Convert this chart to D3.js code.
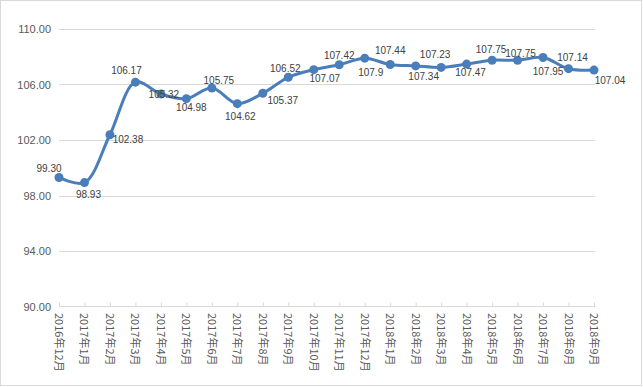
<!DOCTYPE html>
<html><head><meta charset="utf-8">
<script src="https://cdn.jsdelivr.net/npm/d3@7"></script>
<style>body{margin:0;background:#fff}svg{display:block}</style>
</head><body><svg id="c" width="643" height="387"></svg>
<script>
const categories = ["2016年12月","2017年1月","2017年2月","2017年3月","2017年4月","2017年5月","2017年6月","2017年7月","2017年8月","2017年9月","2017年10月","2017年11月","2017年12月","2018年1月","2018年2月","2018年3月","2018年4月","2018年5月","2018年6月","2018年7月","2018年8月","2018年9月"];
const values = [99.30,98.93,102.38,106.17,105.32,104.98,105.75,104.62,105.37,106.52,107.07,107.42,107.9,107.44,107.34,107.23,107.47,107.75,107.75,107.95,107.14,107.04];
const valueLabels = ["99.30","98.93","102.38","106.17","105.32","104.98","105.75","104.62","105.37","106.52","107.07","107.42","107.9","107.44","107.34","107.23","107.47","107.75","107.75","107.95","107.14","107.04"];
const yTicks = [90,94,98,102,106,110];
// label placement offsets (dx to text centre, dy to baseline) relative to each point
const labelOffsets = [[-10,-5],[4,15],[18,8],[-9,-8],[3,4],[5,12],[7,-4],[3,16],[20,11],[-3,-5],[11,12],[0,-6],[6,18],[0,-11],[8,14],[-6,-9],[4,12],[-1,-7],[3,-3.5],[5,18],[4,-8],[16,14]];

const svg = d3.select("#c");
svg.append("rect").attr("x",0.5).attr("y",0.5).attr("width",641).attr("height",385)
  .attr("fill","#fff").attr("stroke","#d9d9d9");

const x = d3.scalePoint().domain(categories).range([59,594]);
const y = d3.scaleLinear().domain([90,110]).range([306.5,29]);

// gridlines
svg.append("g").selectAll("line").data(yTicks.filter(d=>d>90)).join("line")
  .attr("x1",59).attr("x2",595).attr("y1",d=>Math.round(y(d))+0.5).attr("y2",d=>Math.round(y(d))+0.5)
  .attr("stroke","#d9d9d9").attr("stroke-width",1);

// y axis labels
svg.append("g").selectAll("text").data(yTicks).join("text")
  .attr("x",51).attr("y",d=>y(d)+4).attr("text-anchor","end")
  .attr("font-family","Liberation Sans, Arial, sans-serif").attr("font-size",11).attr("fill","#595959")
  .text(d=>d3.format(".2f")(d));

// x axis
const xAxis = d3.axisBottom(x).tickSize(-4).tickFormat("");
const gx = svg.append("g").attr("transform","translate(0,306.5)").call(xAxis);
gx.select(".domain").attr("stroke","#d9d9d9").attr("d","M59,0H595");
gx.selectAll(".tick line").attr("stroke","#d9d9d9");

svg.append("g").selectAll("text").data(categories).join("text")
  .attr("transform",d=>`translate(${x(d)-4},313) rotate(90)`)
  .attr("font-family","Noto Sans CJK SC, sans-serif").attr("font-size",11).attr("fill","#595959")
  .text(d=>d);

// line
const pts = categories.map((c,i)=>[x(c), y(values[i])]);
svg.append("path").attr("d", d3.line().curve(d3.curveCatmullRom.alpha(0.5))(pts))
  .attr("fill","none").attr("stroke","#4a7ebb").attr("stroke-width",3).attr("stroke-linejoin","round");

svg.append("g").selectAll("circle").data(pts).join("circle")
  .attr("cx",d=>d[0]).attr("cy",d=>d[1]).attr("r",4.5).attr("fill","#4a7ebb");

// data labels
svg.append("g").selectAll("text").data(valueLabels).join("text")
  .attr("x",(d,i)=>pts[i][0]+labelOffsets[i][0]).attr("y",(d,i)=>pts[i][1]+labelOffsets[i][1])
  .attr("text-anchor","middle").attr("font-family","Liberation Sans, Arial, sans-serif")
  .attr("font-size",10).attr("fill","#404040").text(d=>d);
</script></body></html>
